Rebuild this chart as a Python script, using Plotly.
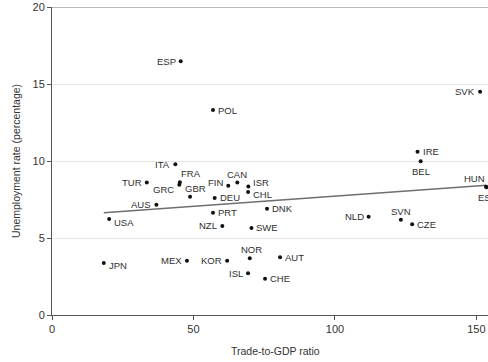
import plotly.graph_objects as go

# OECD countries: trade openness vs. unemployment
countries = ["ESP", "POL", "ITA", "FRA", "GRC", "TUR", "GBR", "FIN", "CAN", "DEU",
             "AUS", "PRT", "NZL", "USA", "JPN", "MEX", "KOR", "ISL", "NOR", "ISR",
             "CHL", "DNK", "SWE", "AUT", "CHE", "NLD", "SVN", "CZE", "SVK", "IRE",
             "BEL", "HUN", "EST"]
trade_to_gdp = [45.5, 56.9, 43.6, 45.2, 45.0, 33.5, 48.8, 62.3, 65.5, 57.5,
                36.9, 56.9, 60.2, 20.2, 18.3, 47.7, 61.9, 69.3, 69.9, 69.4,
                69.3, 76.0, 70.5, 80.6, 75.3, 111.9, 123.3, 127.3, 151.3, 129.2,
                130.3, 153.4, 153.6]
unemployment = [16.47, 13.31, 9.79, 8.62, 8.45, 8.60, 7.68, 8.40, 8.60, 7.60,
                7.16, 6.64, 5.78, 6.23, 3.38, 3.53, 3.53, 2.71, 3.68, 8.35,
                7.99, 6.90, 5.65, 3.75, 2.36, 6.38, 6.19, 5.89, 14.50, 10.60,
                9.98, 8.33, 8.30]

# linear fit of unemployment on trade share
trend_intercept = 6.40
trend_slope = 0.0132

x_ticks = [0, 50, 100, 150]
y_ticks = [0, 5, 10, 15, 20]

# label placement around each dot: (xanchor, yanchor, xshift, yshift)
placement = {
    "r": ("left", "middle", 3, 0),
    "l": ("right", "middle", -3, 0),
}
custom = {
    "FRA": ("left", "bottom", -1, 1),
    "GRC": ("right", "middle", -3, -5),
    "GBR": ("center", "bottom", 5, 1),
    "FIN": ("right", "middle", -3, 3),
    "CAN": ("center", "bottom", 0, 1),
    "ISR": ("left", "middle", 3, 4),
    "CHL": ("left", "middle", 3, -3),
    "USA": ("left", "middle", 3, -3),
    "JPN": ("left", "middle", 3, -3),
    "NOR": ("center", "bottom", 2, 1),
    "SVN": ("center", "bottom", 0, 1),
    "BEL": ("center", "top", 0, -3),
    "HUN": ("right", "bottom", 1, 1),
    "EST": ("left", "top", -11, -3),
}
left_side = {"ESP", "ITA", "TUR", "AUS", "NZL", "MEX", "KOR", "ISL", "NLD", "SVK"}

fig = go.Figure()

x_lo, x_hi = min(trade_to_gdp), max(trade_to_gdp)
fig.add_trace(go.Scatter(
    x=[x_lo, x_hi],
    y=[trend_intercept + trend_slope * x_lo, trend_intercept + trend_slope * x_hi],
    mode="lines", line=dict(color="#6e6e6e", width=1.6),
    hoverinfo="skip", showlegend=False,
))

fig.add_trace(go.Scatter(
    x=trade_to_gdp, y=unemployment, mode="markers",
    marker=dict(color="#111111", size=4),
    showlegend=False,
))

annotations = []
for name, xv, yv in zip(countries, trade_to_gdp, unemployment):
    if name in custom:
        xa, ya, dx, dy = custom[name]
    elif name in left_side:
        xa, ya, dx, dy = placement["l"]
    else:
        xa, ya, dx, dy = placement["r"]
    annotations.append(dict(
        x=xv, y=yv, xref="x", yref="y", text=name, showarrow=False,
        xanchor=xa, yanchor=ya, xshift=dx, yshift=dy,
        font=dict(family="Liberation Sans, Arial, sans-serif", size=9.5, color="#2e2e2e"),
    ))

annotations.append(dict(
    x=0.513, y=0, xref="paper", yref="paper", yshift=-36,
    text="Trade-to-GDP ratio", showarrow=False, xanchor="center", yanchor="middle",
    font=dict(family="Liberation Sans, Arial, sans-serif", size=10.5, color="#333333"),
))
annotations.append(dict(
    x=0, y=0.5, xref="paper", yref="paper", xshift=-36,
    text="Unemployment rate (percentage)", showarrow=False, textangle=-90,
    xanchor="center", yanchor="middle",
    font=dict(family="Liberation Sans, Arial, sans-serif", size=10.5, color="#333333"),
))

fig.update_layout(
    width=488, height=362,
    margin=dict(l=52, r=0, t=7, b=47),
    paper_bgcolor="white", plot_bgcolor="white",
    annotations=annotations,
    font=dict(family="Liberation Sans, Arial, sans-serif", size=11, color="#333333"),
    shapes=[dict(type="line", xref="paper", yref="y", x0=0, x1=1, y0=20, y1=20,
                 line=dict(color="#a0a0a0", width=1.5), layer="below")],
)
fig.update_xaxes(
    range=[0, 154.1], tickvals=x_ticks, showgrid=False, zeroline=False,
    showline=True, linecolor="#555555", linewidth=1,
    ticks="outside", ticklen=4, tickcolor="#555555",
)
fig.update_yaxes(
    range=[0, 20], tickvals=y_ticks, showgrid=True, gridcolor="#e6e6e6", gridwidth=1,
    zeroline=False, showline=True, linecolor="#555555", linewidth=1,
    ticks="outside", ticklen=4, tickcolor="#555555",
)

fig.write_html("out.html")
